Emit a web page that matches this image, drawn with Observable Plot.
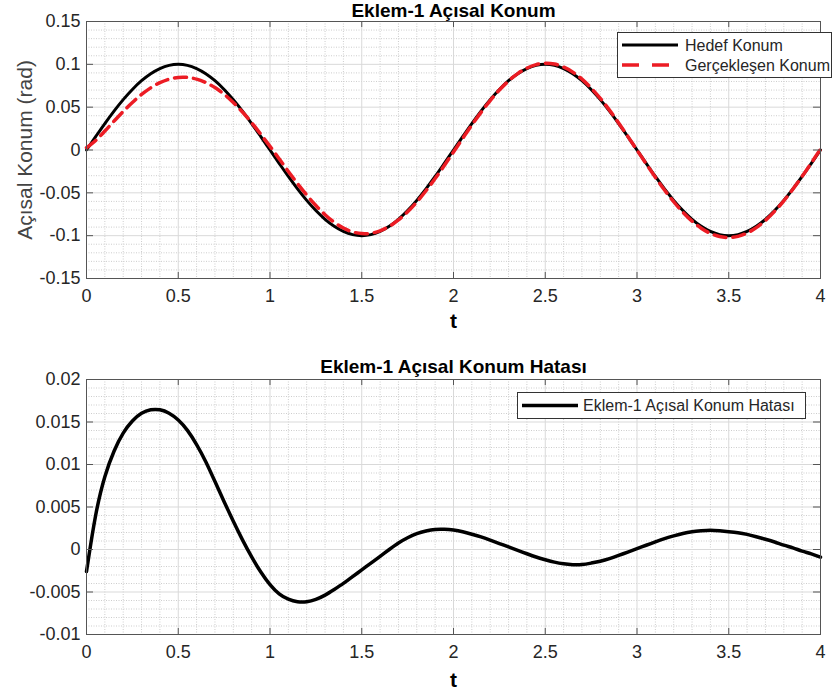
<!DOCTYPE html>
<html>
<head>
<meta charset="utf-8">
<script src="https://cdn.jsdelivr.net/npm/d3@7"></script>
<script src="https://cdn.jsdelivr.net/npm/@observablehq/plot@0.6"></script>
<style>
  html, body { margin: 0; padding: 0; background: #fff; }
  #wrap { position: relative; width: 837px; height: 697px; font-family: "Liberation Sans", Arial, sans-serif; }
  #wrap svg { display: block; }
  .legend { position: absolute; }
</style>
</head>
<body>
<div id="wrap"></div>
<script>
// ---- data ----
const tVals = [0,0.05,0.1,0.15,0.2,0.25,0.3,0.35,0.4,0.45,0.5,0.55,0.6,0.65,0.7,0.75,0.8,0.85,0.9,0.95,
  1,1.05,1.1,1.15,1.2,1.25,1.3,1.35,1.4,1.45,1.5,1.55,1.6,1.65,1.7,1.75,1.8,1.85,1.9,1.95,
  2,2.05,2.1,2.15,2.2,2.25,2.3,2.35,2.4,2.45,2.5,2.55,2.6,2.65,2.7,2.75,2.8,2.85,2.9,2.95,
  3,3.05,3.1,3.15,3.2,3.25,3.3,3.35,3.4,3.45,3.5,3.55,3.6,3.65,3.7,3.75,3.8,3.85,3.9,3.95,4];

const hedefKonum = [
  0, 0.0156, 0.0309, 0.0454, 0.0588, 0.0707, 0.0809, 0.0891, 0.0951, 0.0988,
  0.1, 0.0988, 0.0951, 0.0891, 0.0809, 0.0707, 0.0588, 0.0454, 0.0309, 0.0156,
  0, -0.0156, -0.0309, -0.0454, -0.0588, -0.0707, -0.0809, -0.0891, -0.0951, -0.0988,
  -0.1, -0.0988, -0.0951, -0.0891, -0.0809, -0.0707, -0.0588, -0.0454, -0.0309, -0.0156,
  0, 0.0156, 0.0309, 0.0454, 0.0588, 0.0707, 0.0809, 0.0891, 0.0951, 0.0988,
  0.1, 0.0988, 0.0951, 0.0891, 0.0809, 0.0707, 0.0588, 0.0454, 0.0309, 0.0156,
  0, -0.0156, -0.0309, -0.0454, -0.0588, -0.0707, -0.0809, -0.0891, -0.0951, -0.0988,
  -0.1, -0.0988, -0.0951, -0.0891, -0.0809, -0.0707, -0.0588, -0.0454, -0.0309, -0.0156,
  0];

const gerceklesenKonum = [
  0.0026, 0.0111, 0.0221, 0.0337, 0.0450, 0.0555, 0.0648, 0.0726, 0.0786, 0.0827,
  0.0847, 0.0847, 0.0827, 0.0787, 0.0729, 0.0651, 0.0555, 0.0443, 0.0318, 0.0183,
  0.0042, -0.0103, -0.0250, -0.0392, -0.0526, -0.0648, -0.0755, -0.0844, -0.0911, -0.0956,
  -0.0976, -0.0972, -0.0943, -0.0891, -0.0817, -0.0721, -0.0607, -0.0476, -0.0333, -0.0180,
  -0.0023, 0.0135, 0.0291, 0.0439, 0.0577, 0.0700, 0.0806, 0.0892, 0.0956, 0.0997,
  0.1012, 0.1003, 0.0968, 0.0909, 0.0827, 0.0723, 0.0602, 0.0465, 0.0316, 0.0159,
  -0.0001, -0.0161, -0.0318, -0.0467, -0.0604, -0.0726, -0.0830, -0.0913, -0.0974, -0.1010,
  -0.1021, -0.1008, -0.0969, -0.0906, -0.0821, -0.0716, -0.0593, -0.0456, -0.0307, -0.0151,
  0.0009];

const konumHatasi = [
  -0.0026, 0.0045, 0.0088, 0.0117, 0.0138, 0.0152, 0.0161, 0.0165, 0.0165, 0.0161,
  0.0153, 0.0141, 0.0124, 0.0104, 0.0080, 0.0056, 0.0033, 0.0011, -0.0009, -0.0027,
  -0.0042, -0.0053, -0.0059, -0.0062, -0.0062, -0.0059, -0.0054, -0.0047, -0.0040, -0.0032,
  -0.0024, -0.0016, -0.0008, 0.0000, 0.0008, 0.0014, 0.0019, 0.0022, 0.0024, 0.0024,
  0.0023, 0.0021, 0.0018, 0.0015, 0.0011, 0.0007, 0.0003, -0.0001, -0.0005, -0.0009,
  -0.0012, -0.0015, -0.0017, -0.0018, -0.0018, -0.0016, -0.0014, -0.0011, -0.0007, -0.0003,
  0.0001, 0.0005, 0.0009, 0.0013, 0.0016, 0.0019, 0.0021, 0.0022, 0.0023, 0.0022,
  0.0021, 0.0020, 0.0018, 0.0015, 0.0012, 0.0009, 0.0005, 0.0002, -0.0002, -0.0005,
  -0.0009];

const xTicks = [0, 0.5, 1, 1.5, 2, 2.5, 3, 3.5, 4];
const yTicksTop = [-0.15, -0.1, -0.05, 0, 0.05, 0.1, 0.15];
const yTicksBottom = [-0.01, -0.005, 0, 0.005, 0.01, 0.015, 0.02];

const titleTop = "Eklem-1 Açısal Konum";
const titleBottom = "Eklem-1 Açısal Konum Hatası";
const yLabelTop = "Açısal Konum (rad)";
const xLabel = "t";
const legendTop = ["Hedef Konum", "Gerçekleşen Konum"];
const legendBottom = ["Eklem-1 Açısal Konum Hatası"];

// ---- helpers ----
const rows = tVals.map((t, i) => ({t, hedef: hedefKonum[i], gercek: gerceklesenKonum[i], hata: konumHatasi[i]}));
const fmt = d => String(d);
const FONT = "'Liberation Sans', Arial, sans-serif";
const AXIS = "#555";
const RED = "#ec1c24";

function minorOf(lo, hi, step, majors) {
  const n = Math.round((hi - lo) / step);
  const out = [];
  for (let i = 0; i <= n; i++) {
    const v = +(lo + i * step).toFixed(6);
    if (!majors.some(m => Math.abs(m - v) < step / 10)) out.push(v);
  }
  return out;
}

function panel({height, mt, mb, yDomain, yTicks, yMinorStep, title, titleDy, xLabelDy, yLabel, lines}) {
  const ml = 86, mr = 17, W = 837;
  const fh = height - mt - mb, fw = W - ml - mr;
  const xMinor = minorOf(0, 4, 0.1, xTicks);
  const yMinor = minorOf(yDomain[0], yDomain[1], yMinorStep, yTicks);
  const marks = [
    Plot.ruleX(xMinor, {stroke: "#cdcdcd", strokeDasharray: "1,1.5"}),
    Plot.ruleY(yMinor, {stroke: "#cdcdcd", strokeDasharray: "1,1.5"}),
    Plot.ruleX(xTicks, {stroke: "#d9d9d9"}),
    Plot.ruleY(yTicks, {stroke: "#d9d9d9"}),
    ...lines,
    // inward ticks on all four sides
    Plot.ruleX(xTicks, {stroke: AXIS, insetTop: fh - 6}),
    Plot.ruleX(xTicks, {stroke: AXIS, insetBottom: fh - 6}),
    Plot.ruleY(yTicks, {stroke: AXIS, insetRight: fw - 7}),
    Plot.ruleY(yTicks, {stroke: AXIS, insetLeft: fw - 7}),
    Plot.frame({stroke: AXIS}),
    Plot.axisX(xTicks, {tickSize: 0, tickPadding: 11, tickFormat: fmt, label: null, fontSize: 18, fill: "#262626"}),
    Plot.axisY(yTicks, {tickSize: 0, tickPadding: 6, tickFormat: fmt, label: null, fontSize: 18, fill: "#262626"}),
    Plot.text([title], {frameAnchor: "top", lineAnchor: "middle", dy: titleDy, text: d => d, fontSize: 19, fontWeight: "bold", fill: "#000"}),
    Plot.text([xLabel], {frameAnchor: "bottom", lineAnchor: "middle", dy: xLabelDy, text: d => d, fontSize: 21, fontWeight: "bold", fill: "#000"})
  ];
  if (yLabel) {
    marks.push(Plot.text([yLabel], {frameAnchor: "left", textAnchor: "middle", lineAnchor: "middle", dx: -61, rotate: -90, text: d => d, fontSize: 21, fill: "#444"}));
  }
  return Plot.plot({
    width: W, height,
    marginLeft: ml, marginRight: mr, marginTop: mt, marginBottom: mb,
    x: {domain: [0, 4]},
    y: {domain: yDomain},
    style: {fontFamily: FONT, background: "#fff", overflow: "visible"},
    marks
  });
}

const topPanel = panel({
  height: 348, mt: 21, mb: 70,
  yDomain: [-0.15, 0.15], yTicks: yTicksTop, yMinorStep: 0.01,
  title: titleTop, titleDy: -11, xLabelDy: 43, yLabel: yLabelTop,
  lines: [
    Plot.line(rows, {x: "t", y: "hedef", stroke: "#000", strokeWidth: 3, curve: "catmull-rom"}),
    Plot.line(rows, {x: "t", y: "gercek", stroke: RED, strokeWidth: 3.5, strokeDasharray: "12,7", curve: "catmull-rom"})
  ]
});

const bottomPanel = panel({
  height: 349, mt: 31, mb: 63,
  yDomain: [-0.01, 0.02], yTicks: yTicksBottom, yMinorStep: 0.001,
  title: titleBottom, titleDy: -13, xLabelDy: 46, yLabel: null,
  lines: [
    Plot.line(rows, {x: "t", y: "hata", stroke: "#000", strokeWidth: 3.5, curve: "basis"})
  ]
});

const wrap = document.getElementById("wrap");
wrap.appendChild(topPanel);
wrap.appendChild(bottomPanel);

// ---- legends (SVG overlays) ----
const NS = "http://www.w3.org/2000/svg";
function legend(left, topPx, w, h, items, rowYs, textX, fontSize) {
  const svg = document.createElementNS(NS, "svg");
  svg.setAttribute("width", w); svg.setAttribute("height", h);
  svg.setAttribute("class", "legend");
  svg.style.left = left + "px"; svg.style.top = topPx + "px";
  const r = document.createElementNS(NS, "rect");
  r.setAttribute("x", 0.5); r.setAttribute("y", 0.5);
  r.setAttribute("width", w - 1); r.setAttribute("height", h - 1);
  r.setAttribute("fill", "#fff"); r.setAttribute("stroke", "#333");
  svg.appendChild(r);
  items.forEach((it, i) => {
    const l = document.createElementNS(NS, "line");
    l.setAttribute("x1", 5); l.setAttribute("x2", 61);
    l.setAttribute("y1", rowYs[i]); l.setAttribute("y2", rowYs[i]);
    l.setAttribute("stroke", it.color); l.setAttribute("stroke-width", it.width);
    if (it.dash) l.setAttribute("stroke-dasharray", it.dash);
    svg.appendChild(l);
    const t = document.createElementNS(NS, "text");
    t.setAttribute("x", textX); t.setAttribute("y", rowYs[i]);
    t.setAttribute("dy", "0.35em");
    t.setAttribute("font-family", FONT); t.setAttribute("font-size", fontSize);
    t.setAttribute("fill", "#262626");
    t.textContent = it.label;
    svg.appendChild(t);
  });
  wrap.appendChild(svg);
}

legend(617, 32, 215, 46, [
  {label: legendTop[0], color: "#000", width: 3},
  {label: legendTop[1], color: RED, width: 3.5, dash: "17,13"}
], [13, 33], 68, 16);

legend(517, 392, 289, 27, [
  {label: legendBottom[0], color: "#000", width: 3.5}
], [13.5], 66, 16);
</script>
</body>
</html>
